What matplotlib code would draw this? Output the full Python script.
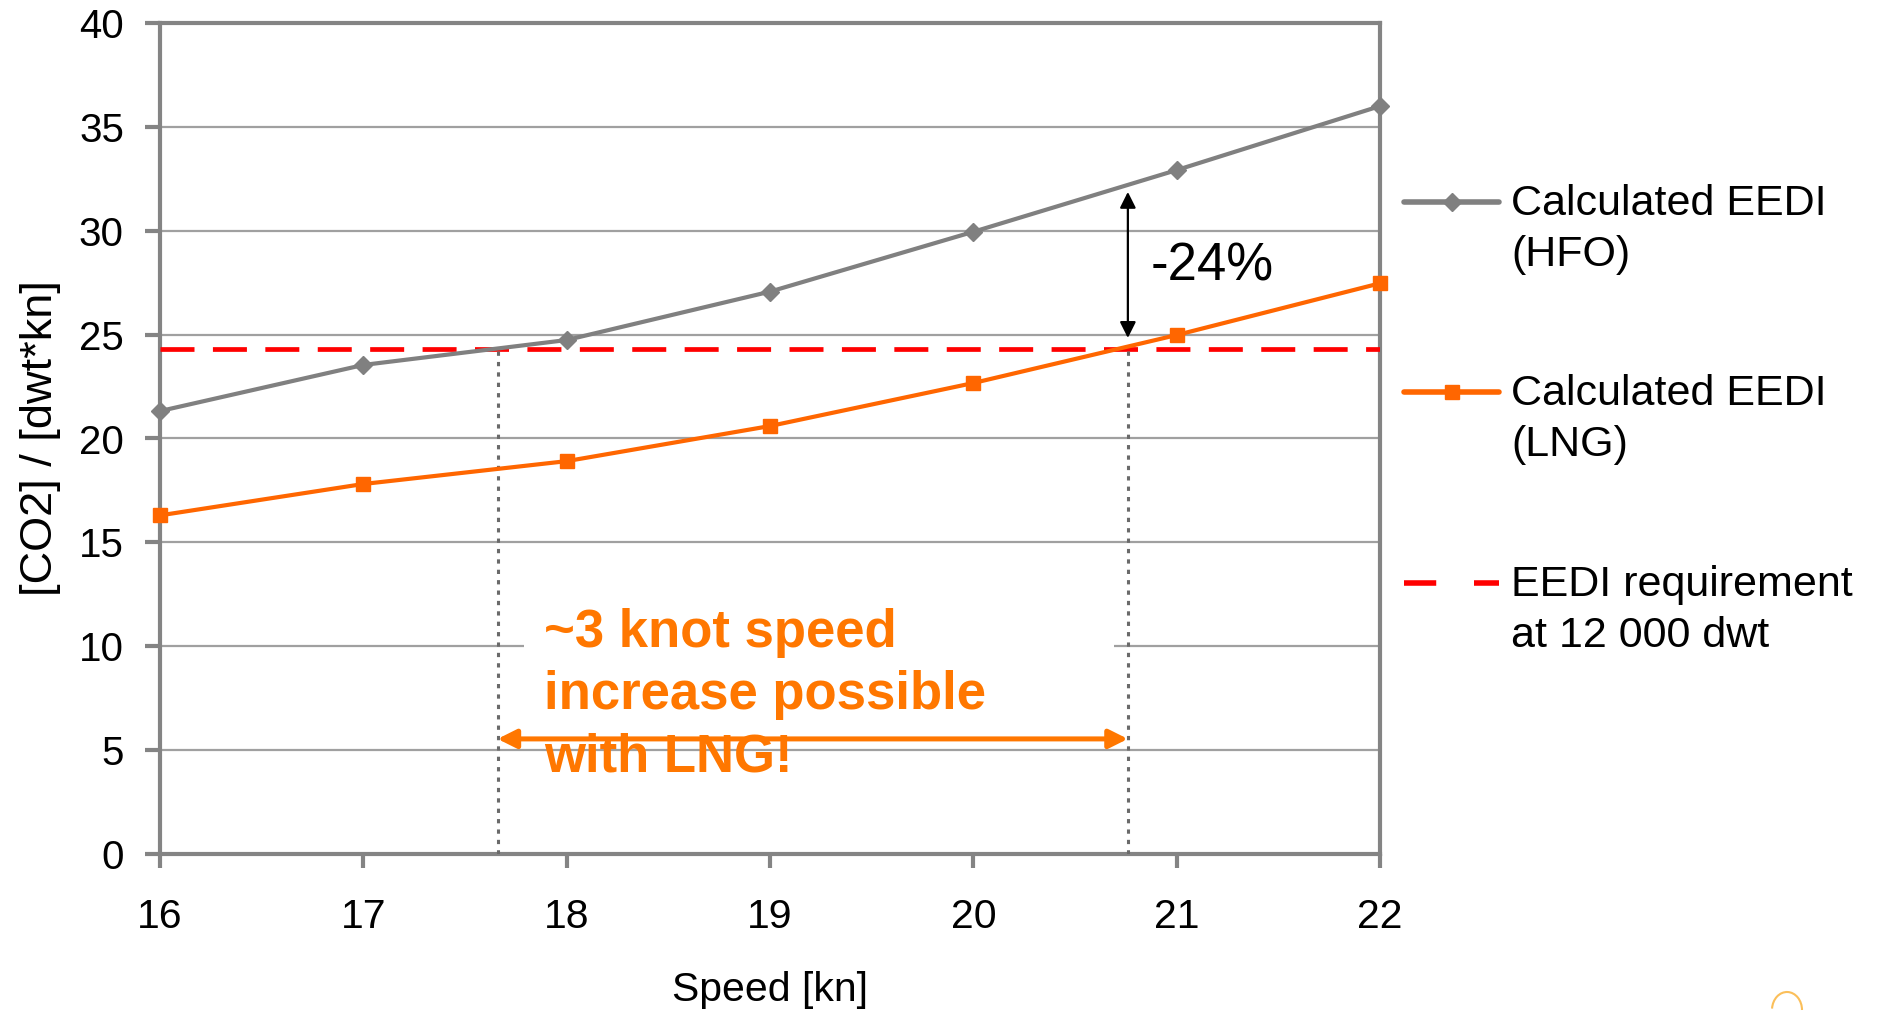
import matplotlib
matplotlib.use("Agg")
import matplotlib.pyplot as plt
from matplotlib.lines import Line2D
from matplotlib.patches import Rectangle, Arc

plt.rcParams['font.family'] = ['Liberation Sans', 'DejaVu Sans']

speeds = [16, 17, 18, 19, 20, 21, 22]
eedi_hfo = [21.32, 23.54, 24.74, 27.07, 29.95, 32.92, 36.0]
eedi_lng = [16.3, 17.81, 18.91, 20.6, 22.67, 24.98, 27.47]
eedi_required = 24.3

# speeds where each curve meets the requirement line
speed_limit_hfo = 17.66
speed_limit_lng = 20.76
gap_top = 31.87
gap_bottom = 24.84
gap_label = "-24%"

yticks = [0, 5, 10, 15, 20, 25, 30, 35, 40]

GREY = '#848484'
ORANGE_LINE = '#FF6600'
ORANGE_TEXT = '#FF7700'

fig = plt.figure(figsize=(18.83, 10.11), dpi=100)
ax = fig.add_axes([160 / 1883, 1 - 854 / 1011, 1220 / 1883, 831 / 1011])

ax.set_xlim(16, 22)
ax.set_ylim(0, 40)
ax.set_xticks(speeds)
ax.set_yticks(yticks)
ax.yaxis.grid(True, color='#A0A0A0', lw=1.6)
ax.set_axisbelow(True)
for side in ['left', 'right', 'top', 'bottom']:
    ax.spines[side].set_color(GREY)
    ax.spines[side].set_linewidth(3.0)
ax.tick_params(axis='y', length=11, width=3, color=GREY, labelsize=29, pad=15)
ax.tick_params(axis='x', length=10, width=3, color=GREY, labelsize=29.5, pad=22)

ax.plot(speeds, eedi_hfo, color='#808080', lw=3, marker='D', ms=9,
        zorder=4, clip_on=False)
ax.plot(speeds, eedi_lng, color=ORANGE_LINE, lw=3, marker='s', ms=10,
        zorder=4, clip_on=False)
ax.axhline(eedi_required, color='#FF0000', lw=3.4, dashes=(7.2, 3.9), zorder=3)

# dotted drop lines at the two limit speeds
for s in [speed_limit_hfo, speed_limit_lng]:
    ax.plot([s, s], [0, eedi_required], color='#6A6A6A', lw=2.2, dashes=(1.4, 2.0),
            zorder=3)

# white patch behind the text breaks the 10 gridline
ax.add_patch(Rectangle((17.79, 7.2), 2.9, 4.6, facecolor='white',
                       edgecolor='none', zorder=1.5))
ax.text(17.89, 11.85, "~3 knot speed\nincrease possible\nwith LNG!",
        color=ORANGE_TEXT, fontsize=38, fontweight='bold', va='top', ha='left',
        linespacing=1.32, zorder=5)
ax.annotate('', xy=(speed_limit_hfo, 5.54), xytext=(speed_limit_lng, 5.54),
            arrowprops=dict(arrowstyle='<|-|>', color=ORANGE_TEXT, lw=3.6,
                            mutation_scale=28, shrinkA=0, shrinkB=0), zorder=6)

ax.annotate('', xy=(speed_limit_lng, gap_top), xytext=(speed_limit_lng, gap_bottom),
            arrowprops=dict(arrowstyle='<|-|>', color='black', lw=1.6,
                            mutation_scale=24, shrinkA=0, shrinkB=0), zorder=6)
ax.text(20.87, 28.3, gap_label, fontsize=38, va='center', ha='left')

ax.set_xlabel("Speed [kn]", fontsize=29.5)
ax.xaxis.set_label_coords(0.5, -0.141)
ax.set_ylabel("[CO2] / [dwt*kn]", fontsize=32.5)
ax.yaxis.set_label_coords(-0.081, 0.5)

# legend drawn by hand so each handle sits on the first text line
entries = [
    ("Calculated EEDI\n(HFO)", dict(color='#808080', lw=4, marker='D', ms=9), 202),
    ("Calculated EEDI\n(LNG)", dict(color=ORANGE_LINE, lw=4, marker='s', ms=10), 392),
    ("EEDI requirement\nat 12 000 dwt", dict(color='#FF0000', lw=4, dashes=(5.8, 6.8)), 583),
]
x0, x1 = 1404 / 1883, 1499 / 1883
for label, style, ypix in entries:
    yf = 1 - ypix / 1011
    if 'marker' in style:
        handle = Line2D([x0, (x0 + x1) / 2, x1], [yf, yf, yf],
                        transform=fig.transFigure, markevery=[1],
                        solid_capstyle='round', **style)
    else:
        handle = Line2D([x0, x1], [yf, yf], transform=fig.transFigure, **style)
    fig.add_artist(handle)
    fig.text(1511 / 1883, yf + 18 / 1011, label, fontsize=31, va='top', ha='left',
             linespacing=1.34)

# corner of a logo at the bottom edge
fig.add_artist(Arc((1787 / 1883, 1 - 1010 / 1011), 30 / 1883, 36 / 1011,
                   theta1=0, theta2=170, color='#FBBF5A', lw=1.5,
                   transform=fig.transFigure))

fig.savefig("out.png", dpi=100)
